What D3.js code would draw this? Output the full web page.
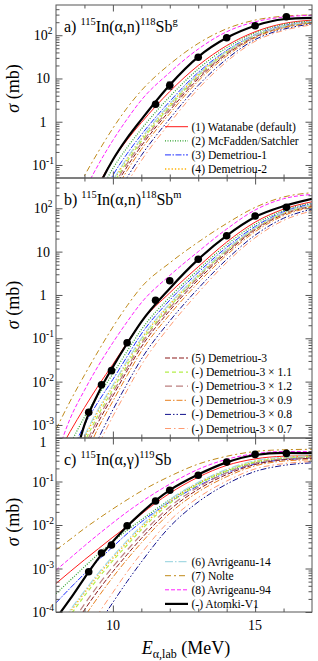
<!DOCTYPE html>
<html>
<head>
<meta charset="utf-8">
<script src="https://cdn.jsdelivr.net/npm/d3@7"></script>
<style>
body { margin: 0; background: #fff; }
text { font-family: "Liberation Serif", "DejaVu Serif", "Times New Roman", serif; fill: #000; }
</style>
</head>
<body>
<div id="graphId"></div>
<script>
var wt = 318;
var ht = 661;

var energies = [8, 8.5, 9, 9.5, 10, 10.5, 11, 12, 13, 14, 15, 16, 17];

// model curves, log10(sigma / mb), panel a) 115In(a,n)118Sb g
var aWatanabe = [-3.9, -3.0, -2.15, -1.45, -0.88, -0.42, -0.02, 0.7, 1.3, 1.76, 2.08, 2.27, 2.35];
var aMcFadden = [-4.3, -3.35, -2.45, -1.7, -1.08, -0.6, -0.17, 0.58, 1.22, 1.71, 2.05, 2.25, 2.33];
var aDem1 = [-4.6, -3.6, -2.65, -1.88, -1.24, -0.74, -0.3, 0.47, 1.14, 1.65, 2.01, 2.22, 2.31];
var aDem2 = [-4.85, -3.85, -2.86, -2.05, -1.39, -0.86, -0.4, 0.39, 1.09, 1.62, 2.0, 2.21, 2.31];
var aDem3 = [-5.15, -4.15, -3.12, -2.28, -1.6, -1.04, -0.56, 0.26, 0.99, 1.56, 1.96, 2.19, 2.29];
var aDem3x11 = [-4.95, -3.95, -2.95, -2.13, -1.46, -0.92, -0.45, 0.35, 1.06, 1.6, 1.99, 2.2, 2.3];
var aDem3x12 = [-5.05, -4.05, -3.03, -2.2, -1.52, -0.97, -0.5, 0.31, 1.03, 1.58, 1.98, 2.2, 2.3];
var aDem3x09 = [-5.35, -4.3, -3.25, -2.4, -1.7, -1.13, -0.64, 0.19, 0.94, 1.52, 1.94, 2.17, 2.28];
var aDem3x08 = [-5.6, -4.55, -3.48, -2.6, -1.88, -1.29, -0.78, 0.07, 0.84, 1.45, 1.9, 2.14, 2.26];
var aDem3x07 = [-5.8, -4.75, -3.66, -2.76, -2.02, -1.42, -0.9, -0.03, 0.76, 1.39, 1.86, 2.11, 2.24];
var aAvr14 = [-4.8, -3.8, -2.82, -2.02, -1.36, -0.84, -0.38, 0.41, 1.1, 1.63, 2.0, 2.21, 2.31];
var aNolte = [-2.6, -1.9, -1.25, -0.68, -0.15, 0.32, 0.72, 1.33, 1.81, 2.15, 2.35, 2.44, 2.47];
var aAvr94 = [-3.1, -2.3, -1.6, -0.98, -0.43, 0.06, 0.5, 1.14, 1.68, 2.08, 2.31, 2.42, 2.46];
var aAtomki = [-4.4, -3.3, -2.3, -1.5, -0.88, -0.38, 0.05, 0.85, 1.5, 1.94, 2.22, 2.37, 2.4];

// panel b) 115In(a,n)118Sb m
var bWatanabe = [-3.75, -3.15, -2.6, -2.08, -1.6, -1.1, -0.62, 0.05, 0.65, 1.22, 1.68, 1.98, 2.15];
var bMcFadden = [-4.2, -3.45, -2.82, -2.3, -1.82, -1.3, -0.8, -0.05, 0.58, 1.16, 1.63, 1.95, 2.12];
var bDem1 = [-4.6, -3.7, -3.0, -2.45, -1.95, -1.42, -0.9, -0.12, 0.52, 1.1, 1.58, 1.92, 2.1];
var bDem2 = [-5.0, -4.05, -3.3, -2.66, -2.1, -1.55, -1.02, -0.22, 0.45, 1.04, 1.54, 1.89, 2.08];
var bDem3 = [-5.3, -4.35, -3.6, -2.92, -2.33, -1.75, -1.2, -0.36, 0.35, 0.97, 1.5, 1.86, 2.05];
var bDem3x11 = [-5.1, -4.15, -3.4, -2.75, -2.18, -1.62, -1.08, -0.27, 0.42, 1.02, 1.53, 1.88, 2.07];
var bDem3x12 = [-5.2, -4.25, -3.5, -2.83, -2.25, -1.68, -1.13, -0.3, 0.4, 1.0, 1.52, 1.88, 2.07];
var bDem3x09 = [-5.5, -4.5, -3.75, -3.05, -2.45, -1.86, -1.3, -0.45, 0.28, 0.92, 1.46, 1.83, 2.03];
var bDem3x08 = [-5.8, -4.8, -4.0, -3.3, -2.65, -2.05, -1.48, -0.6, 0.15, 0.82, 1.38, 1.77, 1.98];
var bDem3x07 = [-6.0, -5.0, -4.15, -3.45, -2.8, -2.2, -1.62, -0.72, 0.05, 0.75, 1.32, 1.72, 1.94];
var bAvr14 = [-5.0, -4.0, -3.25, -2.62, -2.08, -1.52, -1.0, -0.2, 0.46, 1.05, 1.55, 1.9, 2.08];
var bNolte = [-3.1, -2.45, -1.85, -1.28, -0.74, -0.25, 0.18, 0.74, 1.22, 1.65, 2.02, 2.26, 2.36];
var bAvr94 = [-3.75, -2.85, -2.2, -1.62, -1.1, -0.62, -0.18, 0.45, 1.0, 1.52, 1.96, 2.22, 2.32];
var bAtomki = [-5.6, -4.2, -3.0, -2.25, -1.66, -1.12, -0.62, 0.15, 0.82, 1.37, 1.8, 2.05, 2.22];

// panel c) 115In(a,g)119Sb
var cWatanabe = [-3.345, -3.07, -2.8, -2.54, -2.28, -2.03, -1.75, -1.27, -0.9, -0.63, -0.48, -0.42, -0.41];
var cMcFadden = [-3.58, -3.27, -2.96, -2.66, -2.38, -2.12, -1.88, -1.42, -1.05, -0.76, -0.57, -0.48, -0.45];
var cDem1 = [-3.79, -3.45, -3.12, -2.8, -2.5, -2.2, -1.93, -1.47, -1.1, -0.8, -0.6, -0.5, -0.47];
var cDem2 = [-4.45, -4.0, -3.56, -3.14, -2.76, -2.4, -2.06, -1.46, -1.04, -0.74, -0.54, -0.45, -0.42];
var cDem3 = [-4.95, -4.44, -3.95, -3.49, -3.07, -2.68, -2.31, -1.65, -1.18, -0.84, -0.61, -0.5, -0.47];
var cDem3x11 = [-4.55, -4.08, -3.63, -3.21, -2.82, -2.46, -2.11, -1.5, -1.07, -0.76, -0.55, -0.46, -0.43];
var cDem3x12 = [-4.8, -4.3, -3.82, -3.37, -2.96, -2.58, -2.22, -1.58, -1.13, -0.8, -0.58, -0.48, -0.45];
var cDem3x09 = [-5.15, -4.62, -4.11, -3.64, -3.2, -2.79, -2.41, -1.73, -1.24, -0.89, -0.64, -0.53, -0.5];
var cDem3x08 = [-6.0, -5.4, -4.82, -4.28, -3.78, -3.3, -2.85, -2.04, -1.47, -1.06, -0.77, -0.63, -0.57];
var cDem3x07 = [-5.7, -5.1, -4.55, -4.03, -3.55, -3.08, -2.65, -1.9, -1.37, -0.99, -0.71, -0.59, -0.54];
var cAvr14 = [-4.4, -3.95, -3.52, -3.1, -2.72, -2.36, -2.02, -1.42, -1.02, -0.72, -0.52, -0.44, -0.41];
var cNolte = [-2.575, -2.33, -2.08, -1.85, -1.63, -1.42, -1.22, -0.88, -0.6, -0.42, -0.31, -0.27, -0.26];
var cAvr94 = [-3.04, -2.76, -2.48, -2.21, -1.95, -1.7, -1.47, -1.06, -0.72, -0.49, -0.36, -0.31, -0.31];
var cAtomki = [-4.15, -3.7, -3.22, -2.76, -2.38, -2.03, -1.72, -1.2, -0.84, -0.56, -0.39, -0.34, -0.35];

// measured cross sections (mb)
var expEa = [11.5, 12.0, 13.0, 14.0, 15.0, 16.1];
var expSa = [2.53, 6.95, 30.9, 87.7, 166, 268];
var expDa = [0.3, 1.3, 3.5, 10, 18, 30];
var expEbc = [9.15, 9.6, 9.95, 10.5, 11.5, 12.0, 13.0, 14.0, 15.0, 16.1];
var expSb = [1.96e-3, 8.5e-3, 0.0179, 0.079, 0.75, 2.13, 6.65, 23.3, 66.4, 105];
var expDb = [2e-4, 9e-4, 1.8e-3, 8e-3, 0.08, 0.22, 0.7, 2.4, 7, 11];
var expSc = [8.4e-4, 2.28e-3, 3.48e-3, 9.6e-3, 0.0355, 0.0628, 0.139, 0.279, 0.42, 0.443];
var expDc = [9e-5, 2.3e-4, 3.5e-4, 1e-3, 3.6e-3, 6.3e-3, 0.014, 0.028, 0.042, 0.045];

var labels = ["(1) Watanabe (default)", "(2) McFadden/Satchler", "(3) Demetriou-1", "(4) Demetriou-2",
    "(5) Demetriou-3", "(-) Demetriou-3 \u00d7 1.1", "(-) Demetriou-3 \u00d7 1.2", "(-) Demetriou-3 \u00d7 0.9",
    "(-) Demetriou-3 \u00d7 0.8", "(-) Demetriou-3 \u00d7 0.7",
    "(6) Avrigeanu-14", "(7) Nolte", "(8) Avrigeanu-94", "(-) Atomki-V1"];

// line styles, same order as labels
var styles = [
    {c: "#ff1a1a", d: null, w: 1},
    {c: "#2ca02c", d: "1,1.5", w: 1.2},
    {c: "#2030ff", d: "6,1.5,1.5,1.5", w: 1},
    {c: "#ffb000", d: "1.3,2", w: 1.3},
    {c: "#8b1a1a", d: "5,2", w: 1},
    {c: "#b4ee4a", d: "4,3", w: 1.2},
    {c: "#bc8080", d: "7,4", w: 1.2},
    {c: "#e8801e", d: "6,2,1.5,2", w: 1},
    {c: "#10108c", d: "6,2,1.5,2,1.5,2", w: 1},
    {c: "#ff9a70", d: "6,3,1.5,3", w: 1},
    {c: "#a6d9e3", d: "8,2,1.5,2", w: 1.2},
    {c: "#c08a1a", d: "6,3,2,3", w: 1},
    {c: "#ff20ff", d: "4,2", w: 1},
    {c: "#000000", d: null, w: 2.2}
];

var panels = [
    {top: 5, bottom: 178, dom: [0.05, 500], curves: [aWatanabe, aMcFadden, aDem1, aDem2, aDem3, aDem3x11, aDem3x12, aDem3x09, aDem3x08, aDem3x07, aAvr14, aNolte, aAvr94, aAtomki],
        ex: expEa, ey: expSa, ed: expDa, legend: [0, 1, 2, 3], legTop: 126.7, tag: "a) ", pre: "115", mid: "In(\u03b1,n)", post: "118", el: "Sb", iso: "g"},
    {top: 178, bottom: 438, dom: [5e-4, 500], curves: [bWatanabe, bMcFadden, bDem1, bDem2, bDem3, bDem3x11, bDem3x12, bDem3x09, bDem3x08, bDem3x07, bAvr14, bNolte, bAvr94, bAtomki],
        ex: expEbc, ey: expSb, ed: expDb, legend: [4, 5, 6, 7, 8, 9], legTop: 358, tag: "b) ", pre: "115", mid: "In(\u03b1,n)", post: "118", el: "Sb", iso: "m"},
    {top: 438, bottom: 612, dom: [1e-4, 1], curves: [cWatanabe, cMcFadden, cDem1, cDem2, cDem3, cDem3x11, cDem3x12, cDem3x09, cDem3x08, cDem3x07, cAvr14, cNolte, cAvr94, cAtomki],
        ex: expEbc, ey: expSc, ed: expDc, legend: [10, 11, 12, 13], legTop: 561.6, tag: "c) ", pre: "115", mid: "In(\u03b1,\u03b3)", post: "119", el: "Sb", iso: ""}
];

var svg = d3.select("#graphId").append("svg")
    .attr("width", wt)
    .attr("height", ht);

svg.append("rect")
    .attr("width", wt)
    .attr("height", ht)
    .attr("fill", "#fff");

var x = d3.scaleLinear()
    .domain([8, 17])
    .range([56, 312]);

var axisCol = "#555";

panels.forEach(function (p, pi) {
    var y = d3.scaleLog()
        .domain(p.dom)
        .range([p.bottom, p.top]);

    var g = svg.append("g");

    g.append("clipPath")
        .attr("id", "clip" + pi)
        .append("rect")
        .attr("x", x.range()[0])
        .attr("y", p.top)
        .attr("width", x.range()[1] - x.range()[0])
        .attr("height", p.bottom - p.top);

    var line = d3.line()
        .x(function (d) {
            return x(d[0]);
        })
        .y(function (d) {
            return y(Math.pow(10, d[1]));
        })
        .curve(d3.curveMonotoneX);

    var plot = g.append("g")
        .attr("clip-path", "url(#clip" + pi + ")");

    p.curves.forEach(function (vals, i) {
        var s = styles[i];
        plot.append("path")
            .datum(energies.map(function (e, k) {
                return [e, vals[k]];
            }))
            .attr("fill", "none")
            .attr("stroke", s.c)
            .attr("stroke-width", s.w)
            .attr("stroke-dasharray", s.d)
            .attr("d", line);
    });

    // data points with error bars
    var pts = plot.selectAll(".pt")
        .data(p.ex.map(function (e, k) {
            return {e: e, v: p.ey[k], d: p.ed[k]};
        }))
        .enter().append("g")
        .attr("class", "pt");
    pts.append("line")
        .attr("x1", function (d) { return x(d.e); })
        .attr("x2", function (d) { return x(d.e); })
        .attr("y1", function (d) { return y(d.v - d.d); })
        .attr("y2", function (d) { return y(d.v + d.d); })
        .attr("stroke", "#000")
        .attr("stroke-width", 1);
    pts.append("line")
        .attr("x1", function (d) { return x(d.e) - 2.5; })
        .attr("x2", function (d) { return x(d.e) + 2.5; })
        .attr("y1", function (d) { return y(d.v + d.d); })
        .attr("y2", function (d) { return y(d.v + d.d); })
        .attr("stroke", "#000");
    pts.append("line")
        .attr("x1", function (d) { return x(d.e) - 2.5; })
        .attr("x2", function (d) { return x(d.e) + 2.5; })
        .attr("y1", function (d) { return y(d.v - d.d); })
        .attr("y2", function (d) { return y(d.v - d.d); })
        .attr("stroke", "#000");
    pts.append("circle")
        .attr("cx", function (d) { return x(d.e); })
        .attr("cy", function (d) { return y(d.v); })
        .attr("r", 3.8)
        .attr("fill", "#000");

    // frame
    g.append("rect")
        .attr("x", x.range()[0])
        .attr("y", p.top)
        .attr("width", x.range()[1] - x.range()[0])
        .attr("height", p.bottom - p.top)
        .attr("fill", "none")
        .attr("stroke", axisCol)
        .attr("stroke-width", 1);

    // y ticks, inward on both sides
    var lo = Math.floor(Math.log10(p.dom[0])), hi = Math.ceil(Math.log10(p.dom[1]));
    var major = [], minor = [];
    for (var k = lo; k <= hi; k++) {
        var dec = Math.pow(10, k);
        if (dec >= p.dom[0] && dec <= p.dom[1]) major.push(k);
        for (var m = 2; m <= 9; m++) {
            var v = m * dec;
            if (v > p.dom[0] && v < p.dom[1]) minor.push(v);
        }
    }
    var yAxisL = d3.axisRight(y).tickValues(minor).tickSize(3.5).tickFormat("");
    var yAxisR = d3.axisLeft(y).tickValues(minor).tickSize(3.5).tickFormat("");
    g.append("g").attr("transform", "translate(56,0)").call(yAxisL);
    g.append("g").attr("transform", "translate(312,0)").call(yAxisR);
    g.append("g").attr("transform", "translate(56,0)")
        .call(d3.axisRight(y).tickValues(major.map(function (k) { return Math.pow(10, k); })).tickSize(6.5).tickFormat(""));
    g.append("g").attr("transform", "translate(312,0)")
        .call(d3.axisLeft(y).tickValues(major.map(function (k) { return Math.pow(10, k); })).tickSize(6.5).tickFormat(""));

    // x ticks top and bottom
    var xMinor = [9, 11, 12, 13, 14, 16];
    var xMajor = [10, 15];
    g.append("g").attr("transform", "translate(0," + p.bottom + ")")
        .call(d3.axisTop(x).tickValues(xMinor).tickSize(3.5).tickFormat(""));
    g.append("g").attr("transform", "translate(0," + p.bottom + ")")
        .call(d3.axisTop(x).tickValues(xMajor).tickSize(6.5).tickFormat(""));
    g.append("g").attr("transform", "translate(0," + p.top + ")")
        .call(d3.axisBottom(x).tickValues(xMinor).tickSize(3.5).tickFormat(""));
    g.append("g").attr("transform", "translate(0," + p.top + ")")
        .call(d3.axisBottom(x).tickValues(xMajor).tickSize(6.5).tickFormat(""));

    g.selectAll(".domain").remove();
    g.selectAll(".tick line").attr("stroke", axisCol);

    // y tick labels
    major.forEach(function (k) {
        var ty = y(Math.pow(10, k)) + 5;
        if (ty < p.top + 8) ty = p.top + 9;   // "1" at the top of panel c
        var t = g.append("text")
            .attr("x", 43)
            .attr("y", ty)
            .attr("text-anchor", "middle")
            .style("font-size", "14px");
        if (k === 0) {
            t.text("1");
        } else if (k === 1) {
            t.text("10");
        } else {
            t.append("tspan").text("10");
            t.append("tspan").attr("dy", -6).style("font-size", "9.5px").text(k);
        }
    });

    // panel title
    var tt = g.append("text")
        .attr("x", 64)
        .attr("y", p.top + 27)
        .style("font-size", "16px");
    tt.append("tspan").text(p.tag);
    tt.append("tspan").attr("dy", -7).style("font-size", "10.5px").text(p.pre);
    tt.append("tspan").attr("dy", 7).text(p.mid);
    tt.append("tspan").attr("dy", -7).style("font-size", "10.5px").text(p.post);
    tt.append("tspan").attr("dy", 7).text(p.el);
    if (p.iso) tt.append("tspan").attr("dy", -7).style("font-size", "10.5px").text(p.iso);

    // y label
    var yl = g.append("text")
        .attr("transform", "translate(19," + ((p.top + p.bottom) / 2 - 3) + ") rotate(-90)")
        .attr("text-anchor", "middle")
        .style("font-size", "18px");
    yl.append("tspan").style("font-style", "italic").text("\u03c3");
    yl.append("tspan").text(" (mb)");

    // legend
    p.legend.forEach(function (i, r) {
        var ly = p.legTop + r * 14.1;
        var s = styles[i];
        g.append("line")
            .attr("x1", 165)
            .attr("x2", 188)
            .attr("y1", ly)
            .attr("y2", ly)
            .attr("stroke", s.c)
            .attr("stroke-width", s.w)
            .attr("stroke-dasharray", s.d);
        g.append("text")
            .attr("x", 191.5)
            .attr("y", ly + 4)
            .style("font-size", "11.6px")
            .text(labels[i]);
    });
});

// x tick labels and title (bottom panel only)
[10, 15].forEach(function (v) {
    svg.append("text")
        .attr("x", x(v))
        .attr("y", 630)
        .attr("text-anchor", "middle")
        .style("font-size", "14px")
        .text(v);
});

var xl = svg.append("text")
    .attr("x", 186)
    .attr("y", 654)
    .attr("text-anchor", "middle")
    .style("font-size", "18px");
xl.append("tspan").style("font-style", "italic").text("E");
xl.append("tspan").attr("dy", 4).style("font-size", "12px").text("\u03b1,lab");
xl.append("tspan").attr("dy", -4).text(" (MeV)");
</script>
</body>
</html>
